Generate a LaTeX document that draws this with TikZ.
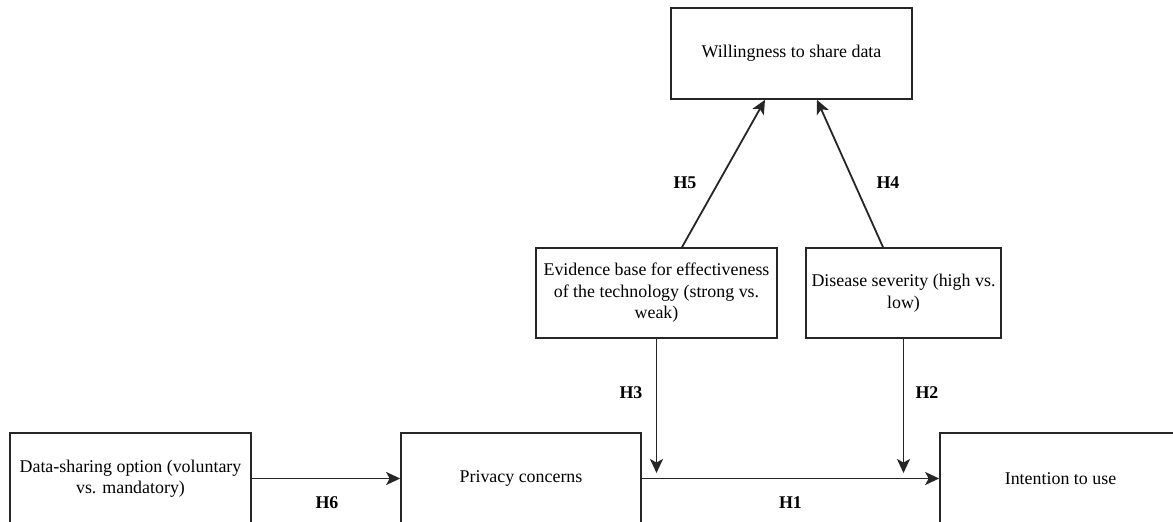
\documentclass[tikz,border=0pt]{standalone}
\usepackage{fontspec}
\setmainfont{Liberation Serif}
\usetikzlibrary{arrows.meta}
\begin{document}
\begin{tikzpicture}[x=1pt,y=-1pt,
  box/.style={draw=black!85, line width=1.7pt, inner sep=0pt, align=center,
    font=\fontsize{17.9}{21.5}\selectfont, text=black},
  conn/.style={draw=black!85, line width=1.8pt, -{Stealth[length=14pt,width=13pt,inset=3.5pt]}},
  hlab/.style={font=\fontsize{17.9}{21.5}\selectfont\bfseries, text=black, inner sep=0pt}]
\useasboundingbox[fill=white] (0,0) rectangle (1173,522);
\node[box, minimum width=241pt, minimum height=91pt] (will) at (791.5,53.5) {Willingness to share data};
\node[box, minimum width=241pt, minimum height=90pt] (evid) at (656.5,293) {Evidence base for effectiveness\\of the technology (strong vs.\\weak)};
\node[box, minimum width=195pt, minimum height=90pt] (dis) at (903.5,293) {Disease severity (high vs.\\low)};
\node[box, minimum width=241pt, minimum height=91pt] (data) at (130.5,478.5) {Data-sharing option (voluntary\\vs. mandatory)};
\node[box, minimum width=240pt, minimum height=91pt] (priv) at (521,478.5) {Privacy concerns};
\node[box, minimum width=241pt, minimum height=91pt] (intn) at (1060.5,478.5) {Intention to use};
\coordinate (h3end) at (656.5,473);
\coordinate (h2end) at (903.5,473);
\draw[conn] (data.east) -- (priv.west);
\draw[conn] (priv.east) -- (intn.west);
\draw[conn] (evid.south) -- (h3end);
\draw[conn] (dis.south) -- (h2end);
\draw[conn] ([xshift=25.5pt]evid.north) -- ([xshift=-26.5pt]will.south);
\draw[conn] ([xshift=-20.5pt]dis.north) -- ([xshift=25.5pt]will.south);
\node[hlab] (h6) at (327,503) {H6};
\node[hlab] (h1) at (790.5,503) {H1};
\node[hlab] (h3) at (631,393) {H3};
\node[hlab] (h2) at (927,393) {H2};
\node[hlab] (h5) at (685,183) {H5};
\node[hlab] (h4) at (888,183) {H4};
\end{tikzpicture}
\end{document}
